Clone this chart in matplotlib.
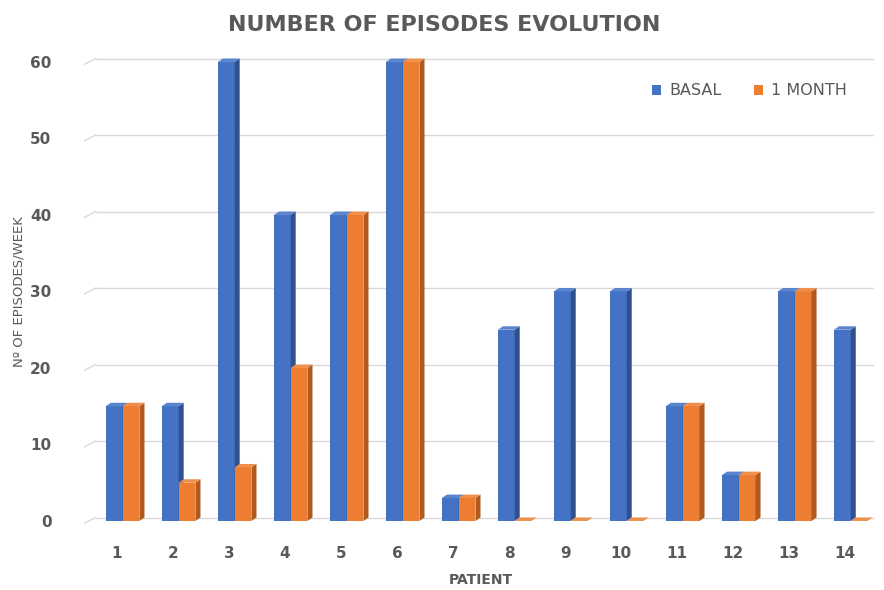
import matplotlib.pyplot as plt
from matplotlib.patches import Polygon
import numpy as np

patients = ["1", "2", "3", "4", "5", "6", "7", "8", "9", "10", "11", "12", "13", "14"]
basal = [15, 15, 60, 40, 40, 60, 3, 25, 30, 30, 15, 6, 30, 25]
month1 = [15, 5, 7, 20, 40, 60, 3, 0, 0, 0, 15, 6, 30, 0]
y_ticks = [0, 10, 20, 30, 40, 50, 60]

BLUE = "#4472C4"
BLUE_SIDE = "#2F528F"
BLUE_TOP = "#5A84CE"
ORANGE = "#ED7D31"
ORANGE_SIDE = "#B05A1F"
ORANGE_TOP = "#F08F4C"
GREY = "#595959"

fig = plt.figure(figsize=(8.84, 5.9), dpi=100)
ax = fig.add_axes([0.1007, 0.117, 0.887, 0.778])

x = np.arange(1, len(patients) + 1)
w = 0.30
dx = 0.09   # depth in x (data units)
dy = 0.45   # depth in y (data units)


def bar3d(x0, h, front, side, top):
    ax.add_patch(Polygon([(x0, 0), (x0 + w, 0), (x0 + w, h), (x0, h)],
                         closed=True, fc=front, ec="none", zorder=3, clip_on=False))
    ax.add_patch(Polygon([(x0 + w, 0), (x0 + w + dx, dy), (x0 + w + dx, h + dy), (x0 + w, h)],
                         closed=True, fc=side, ec="none", zorder=3, clip_on=False))
    ax.add_patch(Polygon([(x0, h), (x0 + w, h), (x0 + w + dx, h + dy), (x0 + dx, h + dy)],
                         closed=True, fc=top, ec="none", zorder=3, clip_on=False))


for xi, b, m in zip(x, basal, month1):
    bar3d(xi - 0.20, b, BLUE, BLUE_SIDE, BLUE_TOP)
    bar3d(xi + 0.10, m, ORANGE, ORANGE_SIDE, ORANGE_TOP)

# gridlines with a small perspective bend at the left
for v in y_ticks:
    ax.plot([0.62, 14.5], [v + 0.45, v + 0.45], color="#D9D9D9", lw=1, zorder=1, clip_on=False)
    ax.plot([0.42, 0.62], [v - 0.3, v + 0.45], color="#D9D9D9", lw=1, zorder=1, clip_on=False)

ax.set_xlim(0.5, 14.5)
ax.set_ylim(0, 60)
ax.set_xticks(x)
ax.set_xticklabels(patients)
ax.set_yticks(y_ticks)
ax.tick_params(length=0, labelsize=11, colors=GREY, pad=18)
for lab in ax.get_xticklabels() + ax.get_yticklabels():
    lab.set_fontweight("bold")
ax.tick_params(axis="y", pad=27)
for s in ax.spines.values():
    s.set_visible(False)

ax.set_xlabel("PATIENT", fontsize=10, fontweight="bold", color=GREY, labelpad=9)
ax.set_ylabel("Nº OF EPISODES/WEEK", fontsize=9.5, color=GREY, labelpad=3)

fig.text(0.503, 0.957, "NUMBER OF EPISODES EVOLUTION", ha="center", va="center",
         fontsize=16, fontweight="bold", color=GREY)

h1 = ax.bar([0], [0], color=BLUE, label="BASAL")
h2 = ax.bar([0], [0], color=ORANGE, label="1 MONTH")
leg = ax.legend(handles=[h1, h2], loc="upper right", bbox_to_anchor=(0.985, 0.985), ncol=2,
                frameon=False, fontsize=11.5, handlelength=0.6, handleheight=0.6,
                handletextpad=0.5, columnspacing=2.0)
for t in leg.get_texts():
    t.set_color(GREY)

fig.savefig("out.png", dpi=100)
